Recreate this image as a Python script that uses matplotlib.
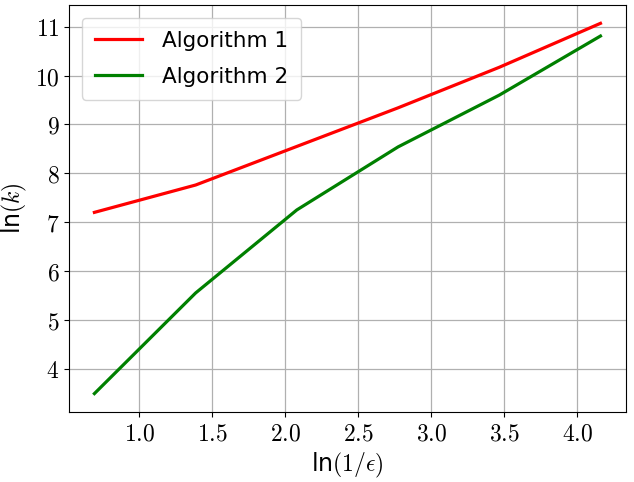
import numpy as np
import matplotlib
matplotlib.use("Agg")
import matplotlib.pyplot as plt
from matplotlib.ticker import FuncFormatter, MultipleLocator

# ln(1/eps) for eps = 1/2 ... 1/64
eps_inv = [2, 4, 8, 16, 32, 64]
ln_alg1 = [7.20, 7.76, 8.55, 9.34, 10.17, 11.07]
ln_alg2 = [3.49, 5.55, 7.25, 8.54, 9.60, 10.81]

plt.rcParams['mathtext.fontset'] = 'cm'
plt.rcParams['font.family'] = 'DejaVu Sans'

x = np.log(eps_inv)

fig = plt.figure(figsize=(6.34, 4.82), dpi=100)
ax = fig.add_subplot(111)
ax.plot(x, ln_alg1, color='red', lw=2.3, label='Algorithm 1')
ax.plot(x, ln_alg2, color='green', lw=2.3, label='Algorithm 2')
ax.grid(True, color='#b0b0b0', lw=0.9)

ax.xaxis.set_major_locator(MultipleLocator(0.5))
ax.yaxis.set_major_locator(MultipleLocator(1))
ax.xaxis.set_major_formatter(FuncFormatter(lambda v, p: r'$%.1f$' % v))
ax.yaxis.set_major_formatter(FuncFormatter(lambda v, p: r'$%d$' % v))
ax.tick_params(labelsize=17)
ax.set_xlabel(r'ln$(1/\epsilon)$', fontsize=17)
ax.set_ylabel(r'ln$(k)$', fontsize=17)
ax.legend(fontsize=15.5, loc='upper left', handlelength=2.2,
          labelspacing=0.75, borderpad=0.6, borderaxespad=0.6,
          handletextpad=0.9)

fig.subplots_adjust(left=0.109, right=0.987, top=0.99, bottom=0.145)
fig.savefig('out.png', dpi=100)
